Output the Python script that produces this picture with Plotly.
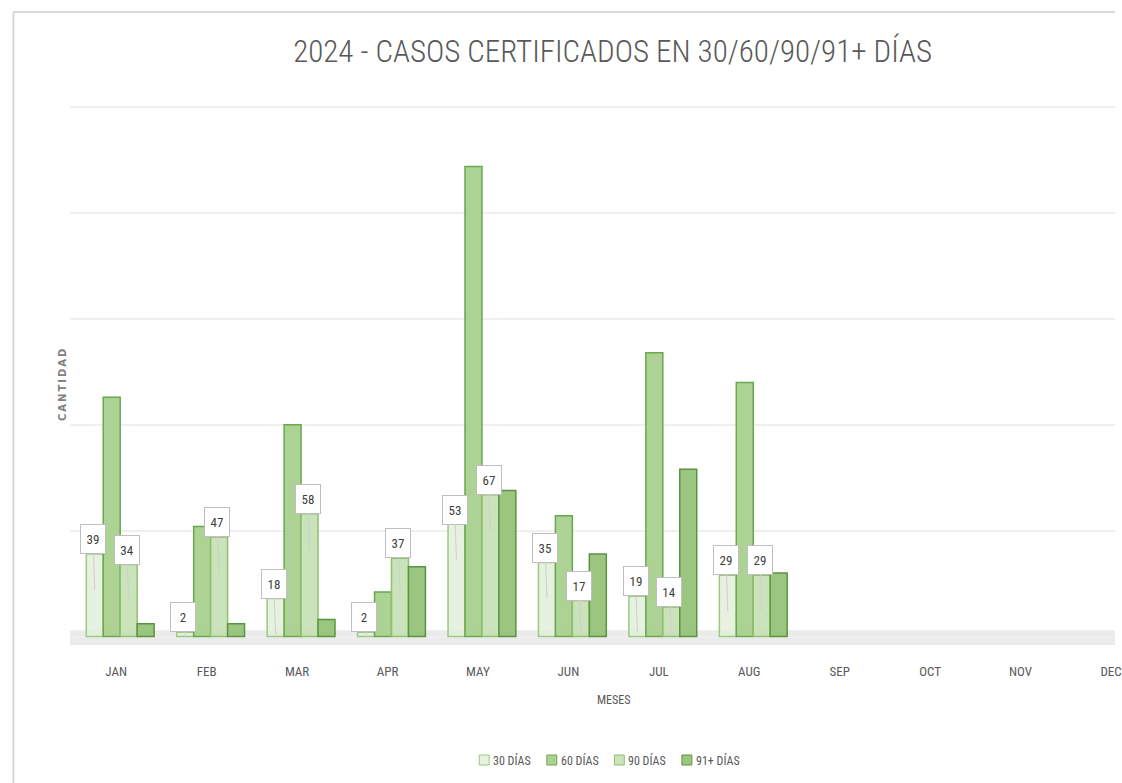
import plotly.graph_objects as go

# Chart data
months = ["JAN", "FEB", "MAR", "APR", "MAY", "JUN", "JUL", "AUG", "SEP", "OCT", "NOV", "DEC"]
dias_30 = [39, 2, 18, 2, 53, 35, 19, 29]
dias_60 = [113, 52, 100, 21, 222, 57, 134, 120]
dias_90 = [34, 47, 58, 37, 67, 17, 14, 29]
dias_91 = [6, 6, 8, 33, 69, 39, 79, 30]

series_names = ["30 DÍAS", "60 DÍAS", "90 DÍAS", "91+ DÍAS"]
series_values = [dias_30, dias_60, dias_90, dias_91]
fills = ["rgba(226,240,217,0.85)", "rgba(169,209,142,0.95)",
         "rgba(197,224,180,0.9)", "rgba(150,195,120,0.95)"]
outlines = ["#9cc985", "#6aa84f", "#8fc070", "#5b9440"]
labelled = [0, 2]  # series that carry data callouts

FONT = "Roboto Condensed, Arial Narrow, sans-serif"
BARGAP = 0.25

# page geometry (px) used for paper-coordinate helpers
W, H = 1122, 783
ML, MR, MT, MB = 70, 0, 103, 138
PW, PH = W - ML - MR, H - MT - MB


def px_x(x):
    return (x - ML) / PW


def px_y(y):
    return (H - MB - y) / PH


fig = go.Figure()

for name, vals, fc, lc in zip(series_names, series_values, fills, outlines):
    fig.add_trace(go.Bar(
        name=name,
        x=months[:len(vals)],
        y=vals,
        marker=dict(color=fc, line=dict(color=lc, width=1.5)),
        hoverinfo="x+y+name",
        showlegend=False,
    ))

# callout labels for 30 and 90 dias
n = len(series_values)
bw = (1 - BARGAP) / n
annotations = []
for k in labelled:
    for i, v in enumerate(series_values[k]):
        xc = i - (1 - BARGAP) / 2 + bw * (k + 0.5)
        tip = max(v - 17, 0.8)
        annotations.append(dict(
            x=xc, y=tip, xref="x", yref="y",
            ax=xc - 0.02, ay=v + 7, axref="x", ayref="y",
            text=str(v), showarrow=True, arrowhead=0, arrowwidth=1,
            arrowcolor="#cfcfcf", bgcolor="white", bordercolor="#bfbfbf",
            borderwidth=1, borderpad=3, width=18, height=22,
            font=dict(family=FONT, size=13, color="#404040"),
        ))

# y axis title
annotations.append(dict(
    x=px_x(62), y=px_y(385), xref="paper", yref="paper",
    text="<b>" + "\u2009".join("CANTIDAD") + "</b>",
    textangle=-90, showarrow=False, xanchor="center", yanchor="middle",
    font=dict(family="DejaVu Sans, sans-serif", size=10, color="#808080"),
))
# x axis title
annotations.append(dict(
    x=px_x(617), y=px_y(700), xref="paper", yref="paper", text="MESES",
    showarrow=False, xanchor="center", yanchor="middle",
    font=dict(family=FONT, size=12, color="#595959"),
))

shapes = [
    # floor
    dict(type="rect", xref="paper", yref="y", x0=0, x1=1, y0=-4, y1=3,
         fillcolor="#ebebeb", line=dict(width=0), layer="below"),
    # chart area frame
    dict(type="line", xref="paper", yref="paper", x0=px_x(13), x1=px_x(13),
         y0=px_y(H), y1=px_y(12), line=dict(color="#d9d9d9", width=2)),
    dict(type="line", xref="paper", yref="paper", x0=px_x(13), x1=1.0,
         y0=px_y(12), y1=px_y(12), line=dict(color="#d9d9d9", width=2)),
]

# legend, drawn compactly like the original
leg_x0, leg_step, leg_y = 482, 68, 760
for k, (name, fc, lc) in enumerate(zip(series_names, fills, outlines)):
    lx = leg_x0 + k * leg_step
    shapes.append(dict(type="rect", xref="paper", yref="paper",
                       x0=px_x(lx), x1=px_x(lx + 10), y0=px_y(leg_y + 5), y1=px_y(leg_y - 5),
                       fillcolor=fc, line=dict(color=lc, width=1)))
    annotations.append(dict(
        x=px_x(lx + 12), y=px_y(leg_y), xref="paper", yref="paper", text=name,
        showarrow=False, xanchor="left", yanchor="middle",
        font=dict(family=FONT, size=12, color="#595959"),
    ))

fig.update_layout(
    width=W, height=H,
    margin=dict(l=ML, r=MR, t=MT, b=MB),
    paper_bgcolor="white", plot_bgcolor="white",
    barmode="group", bargap=BARGAP, bargroupgap=0,
    title=dict(text="2024 - CASOS CERTIFICADOS EN 30/60/90/91+ DÍAS",
               x=0.546, xanchor="center", y=0.935, yanchor="middle",
               font=dict(family=FONT, size=31, color="#595959", weight=300)),
    font=dict(family=FONT, color="#595959"),
    showlegend=False,
    annotations=annotations,
    shapes=shapes,
)

fig.update_xaxes(
    type="category", categoryorder="array", categoryarray=months,
    range=[-0.555, 11.0], showgrid=False, zeroline=False, showline=False,
    ticks="outside", ticklen=14, tickcolor="rgba(0,0,0,0)", ticklabelshift=-4,
    tickfont=dict(family=FONT, size=13, color="#595959"),
)
fig.update_yaxes(
    range=[-4, 252], dtick=50, showticklabels=False,
    showgrid=True, gridcolor="#efefef", gridwidth=2,
    zeroline=False, showline=False,
)

fig.write_html("out.html", config={"displayModeBar": False},
               post_script="document.body.style.margin='0';"
                           "document.body.style.overflow='hidden';")
